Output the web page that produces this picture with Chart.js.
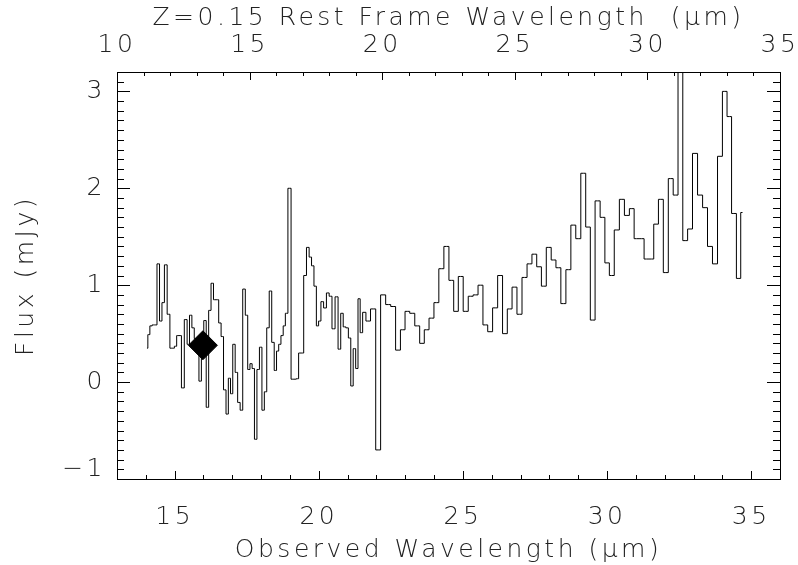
<!DOCTYPE html>
<html>
<head>
<meta charset="utf-8">
<title>IRS spectrum</title>
<script src="https://cdn.jsdelivr.net/npm/chart.js@4.4.1/dist/chart.umd.min.js"></script>
<style>
  html, body { margin: 0; padding: 0; background: #fff; }
  #spec { display: block; }
</style>
</head>
<body>
<canvas id="spec" width="798" height="565"></canvas>
<script>
// === Spectrum (observed wavelength in micron, flux in mJy) ===
const waveObs = [
  14.04, 14.10, 14.18, 14.26, 14.345, 14.43, 14.52, 14.60, 14.69, 14.79,
  14.88, 14.95, 15.03, 15.11, 15.19, 15.28, 15.39, 15.475, 15.555, 15.64,
  15.72, 15.80, 15.885, 15.97, 16.05, 16.14, 16.22, 16.305, 16.39, 16.485,
  16.571, 16.652, 16.739, 16.825, 16.90, 16.975, 17.056, 17.142, 17.229, 17.315,
  17.408, 17.494, 17.575, 17.65, 17.725, 17.811, 17.898, 17.984, 18.071, 18.151,
  18.238, 18.324, 18.411, 18.497, 18.572, 18.647, 18.728, 18.803, 18.878, 18.98,
  19.097, 19.178, 19.259, 19.342, 19.429, 19.524, 19.622, 19.708, 19.789, 19.876,
  19.956, 20.031, 20.118, 20.216, 20.314, 20.406, 20.51, 20.62, 20.718, 20.804,
  20.891, 20.983, 21.07, 21.15, 21.237, 21.323, 21.398, 21.473, 21.571, 21.70,
  21.89, 22.06, 22.23, 22.41, 22.58, 22.75, 22.915, 23.07, 23.24, 23.42,
  23.58, 23.74, 23.91, 24.08, 24.25, 24.43, 24.60, 24.76, 24.92, 25.10,
  25.27, 25.44, 25.61, 25.78, 25.94, 26.12, 26.29, 26.46, 26.62, 26.79,
  26.96, 27.14, 27.31, 27.48, 27.64, 27.805, 27.98, 28.145, 28.31, 28.485,
  28.66, 28.83, 29.00, 29.18, 29.34, 29.50, 29.67, 29.85, 30.00, 30.16,
  30.34, 30.515, 30.69, 30.86, 31.02, 31.20, 31.37, 31.54, 31.70, 31.865,
  32.04, 32.21, 32.38, 32.545, 32.71, 32.88, 33.05, 33.23, 33.40, 33.57,
  33.745, 33.92, 34.085, 34.24, 34.40, 34.575, 34.70
];
const fluxMJy = [
  0.35, 0.49, 0.58, 0.59, 0.59, 1.22, 0.63, 0.82, 1.21, 0.70,
  0.35, 0.35, 0.37, 0.48, 0.48, -0.06, 0.645, 0.39, 0.69, 0.56,
  0.45, 0.45, 0.01, 0.40, 0.635, -0.26, 0.74, 1.02, 0.85, 0.85,
  0.61, 0.47, -0.08, -0.33, 0.04, -0.12, 0.39, 0.10, -0.21, -0.29,
  0.96, 0.69, 0.13, 0.19, 0.14, -0.59, 0.13, 0.36, -0.29, -0.10,
  0.56, 0.94, 0.41, 0.12, 0.32, 0.39, 0.48, 0.58, 0.71, 2.00,
  0.03, 0.03, 0.035, 0.30, 0.30, 1.10, 1.39, 1.29, 1.20, 0.99,
  0.58, 0.63, 0.83, 0.765, 0.92, 0.886, 0.55, 0.88, 0.34, 0.71,
  0.57, 0.56, 0.455, -0.04, 0.345, 0.14, 0.86, 0.51, 0.72, 0.63,
  0.755, -0.70, 0.90, 0.80, 0.78, 0.33, 0.54, 0.73, 0.71, 0.58,
  0.40, 0.54, 0.66, 0.82, 1.17, 1.40, 1.05, 0.73, 1.09, 0.73,
  0.886, 0.90, 1.00, 0.59, 0.52, 0.766, 1.10, 0.50, 0.755, 0.98,
  0.70, 1.08, 1.22, 1.32, 1.19, 0.99, 1.39, 1.26, 1.18, 0.81,
  1.16, 1.62, 1.48, 2.155, 1.60, 0.64, 1.87, 1.70, 1.23, 1.10,
  1.57, 1.886, 1.72, 1.79, 1.48, 1.48, 1.27, 1.27, 1.63, 1.886,
  1.13, 2.10, 1.93, 3.60, 1.46, 1.58, 2.36, 1.93, 1.80, 1.40,
  1.22, 2.33, 3.00, 2.74, 1.74, 1.07, 1.75
];

// 16 micron peak-up photometry
const photWave = [15.98];
const photFlux = [0.38];

// axis ranges and labelled ticks
const obsRange = [13, 36];
const restRange = [10, 35];
const fluxRange = [-1, 3.2];
const obsTicks = [15, 20, 25, 30, 35];
const restTicks = [10, 15, 20, 25, 30, 35];
const fluxTicks = [-1, 0, 1, 2, 3];

const TEXT = '#222';
const FONT = "'DejaVu Sans', sans-serif";
const axisFont = { family: FONT, size: 25, weight: '200' };

// === Inward tick marks (major + minor) on all four sides ===
const inwardTicks = {
  id: 'inwardTicks',
  beforeDraw(chart) {
    // wide-set lettering for all axis text
    chart.ctx.letterSpacing = '3.5px';
  },
  afterDraw(chart) {
    const { ctx, chartArea: a, scales } = chart;
    ctx.save();
    ctx.letterSpacing = '0px';
    ctx.strokeStyle = '#000';
    ctx.lineWidth = 1;
    ctx.beginPath();

    function marks(scale, step, majors, majLen, minLen, side) {
      const n = Math.round((scale.max - scale.min) / step);
      for (let i = 0; i <= n; i++) {
        const v = +(scale.min + i * step).toFixed(4);
        const isMajor = majors.some((m) => Math.abs(m - v) < 1e-6);
        const len = isMajor ? majLen : minLen;
        const p = Math.round(scale.getPixelForValue(v)) + 0.5;
        if (side === 'bottom') { ctx.moveTo(p, a.bottom); ctx.lineTo(p, a.bottom - len); }
        if (side === 'top') { ctx.moveTo(p, a.top); ctx.lineTo(p, a.top + len); }
        if (side === 'left') { ctx.moveTo(a.left, p); ctx.lineTo(a.left + len, p); }
        if (side === 'right') { ctx.moveTo(a.right, p); ctx.lineTo(a.right - len, p); }
      }
    }

    marks(scales.x, 1, obsTicks, 8, 4, 'bottom');
    marks(scales.xTop, 1, restTicks, 8, 4, 'top');
    marks(scales.y, 0.1, fluxTicks, 13, 7, 'left');
    marks(scales.yRight, 0.1, fluxTicks, 13, 7, 'right');
    ctx.stroke();
    ctx.restore();
  }
};

function fixSize(prop, size) {
  return (scale) => {
    scale[prop] = size;
    scale.paddingLeft = 0;
    scale.paddingRight = 0;
    scale.paddingTop = 0;
    scale.paddingBottom = 0;
  };
}

function setTicks(values) {
  return (scale) => { scale.ticks = values.map((v) => ({ value: v })); };
}

function fluxLabel(v) {
  const s = v < 0 ? '\u2212' + Math.abs(v) : String(v);
  // lowest label sits just above the bottom axis
  return v === fluxRange[0] ? [s, ''] : s;
}

const border = { display: true, color: '#000', width: 1 };

new Chart(document.getElementById('spec'), {
  data: {
    datasets: [
      {
        type: 'line',
        label: 'IRS spectrum',
        data: waveObs.map((w, i) => ({ x: w, y: fluxMJy[i] })),
        stepped: 'middle',
        borderColor: '#000',
        borderWidth: 1,
        pointRadius: 0,
        fill: false,
        xAxisID: 'x',
        yAxisID: 'y',
      },
      {
        type: 'scatter',
        label: '16um photometry',
        data: photWave.map((w, i) => ({ x: w, y: photFlux[i] })),
        pointStyle: 'rectRot',
        pointRadius: 14.5,
        backgroundColor: '#000',
        borderColor: '#000',
        borderWidth: 1,
        xAxisID: 'x',
        yAxisID: 'y',
      },
    ],
  },
  options: {
    responsive: false,
    animation: false,
    devicePixelRatio: 1,
    layout: { padding: { left: 0, right: 18, top: 0, bottom: 0 } },
    plugins: {
      legend: { display: false },
      tooltip: { enabled: false },
    },
    scales: {
      x: {
        type: 'linear',
        position: 'bottom',
        min: obsRange[0],
        max: obsRange[1],
        afterBuildTicks: setTicks(obsTicks),
        afterFit: fixSize('height', 86),
        grid: { display: false, drawTicks: false },
        border: border,
        ticks: { autoSkip: false, maxRotation: 0, padding: 23, color: TEXT, font: axisFont },
        title: {
          display: true, text: 'Observed Wavelength (\u03bcm)', color: TEXT,
          padding: { top: 0, bottom: 0 }, font: axisFont,
        },
      },
      xTop: {
        type: 'linear',
        position: 'top',
        min: restRange[0],
        max: restRange[1],
        afterBuildTicks: setTicks(restTicks),
        afterFit: fixSize('height', 72),
        grid: { display: false, drawTicks: false },
        border: border,
        ticks: { autoSkip: false, maxRotation: 0, padding: 12, color: TEXT, font: axisFont },
        title: {
          display: true, text: 'Z=0.15 Rest Frame Wavelength  (\u03bcm)', color: TEXT,
          padding: { top: 3, bottom: 0 }, font: axisFont,
        },
      },
      y: {
        type: 'linear',
        position: 'left',
        min: fluxRange[0],
        max: fluxRange[1],
        afterBuildTicks: setTicks(fluxTicks),
        afterFit: fixSize('width', 117),
        grid: { display: false, drawTicks: false },
        border: border,
        ticks: {
          padding: 11, color: TEXT,
          font: { family: FONT, size: 25, weight: '200', lineHeight: 0.75 },
          callback: fluxLabel,
        },
        title: {
          display: true, text: 'Flux (mJy)', color: TEXT,
          padding: { top: 11, bottom: 0 }, font: axisFont,
        },
      },
      yRight: {
        type: 'linear',
        position: 'right',
        min: fluxRange[0],
        max: fluxRange[1],
        afterBuildTicks: setTicks(fluxTicks),
        afterFit: fixSize('width', 0),
        grid: { display: false, drawTicks: false },
        border: border,
        ticks: { display: false },
      },
    },
  },
  plugins: [inwardTicks],
});
</script>
</body>
</html>
